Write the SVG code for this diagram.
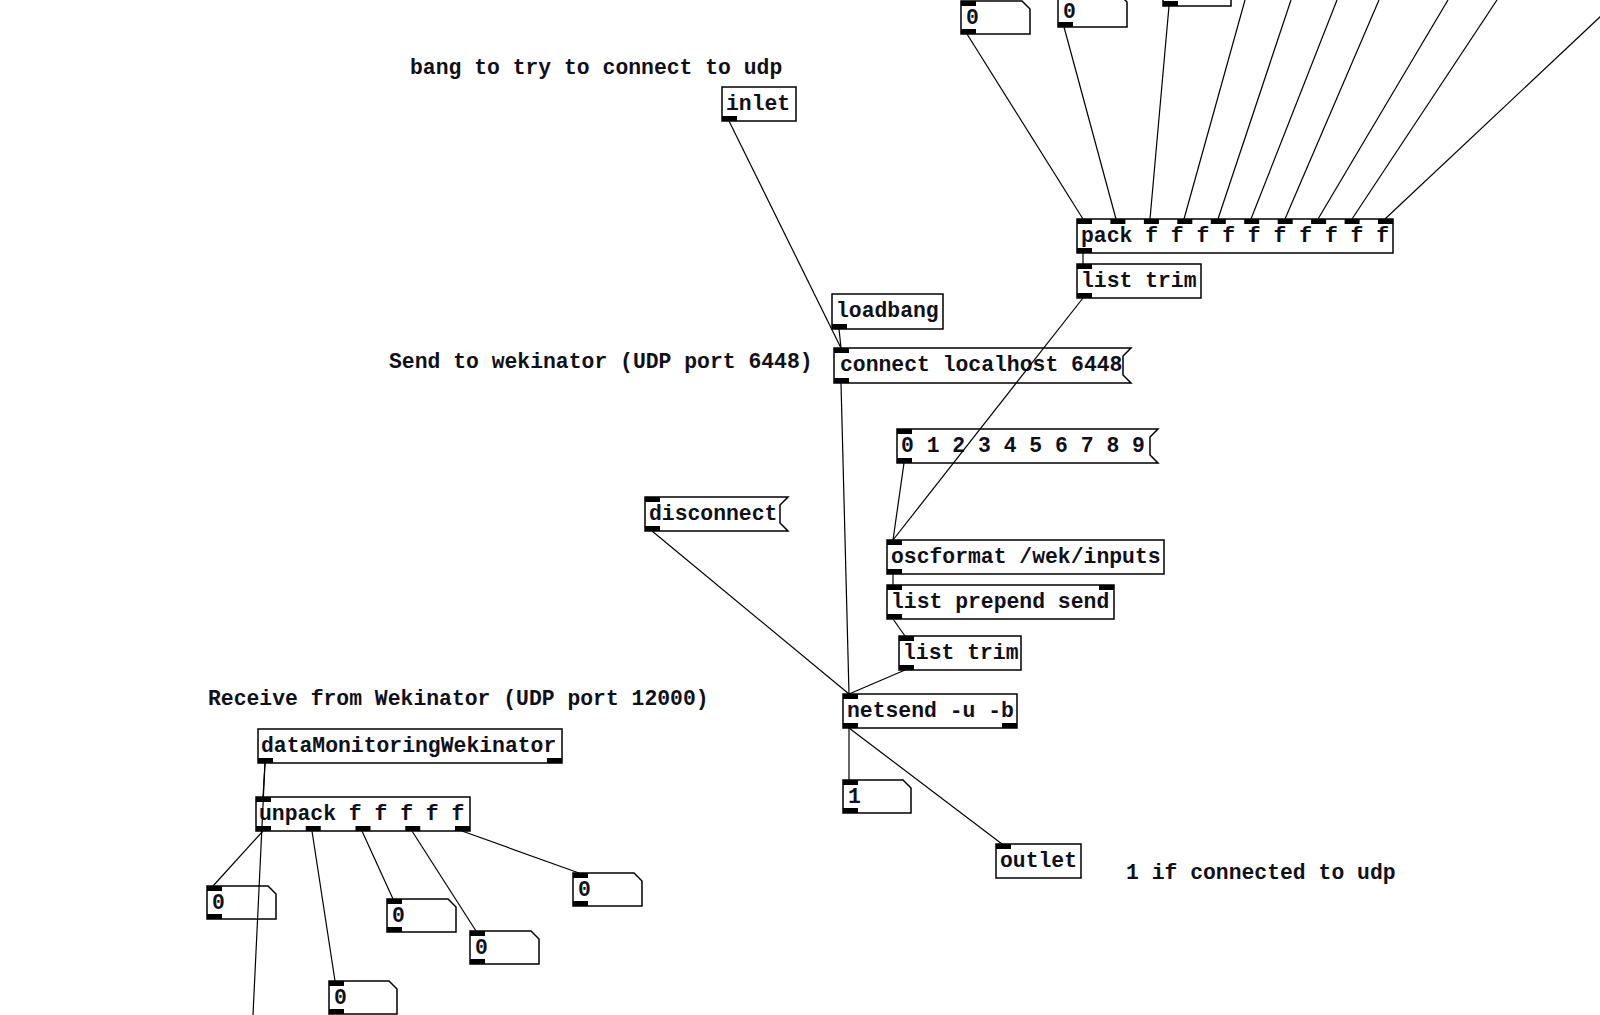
<svg xmlns="http://www.w3.org/2000/svg" width="1600" height="1015" viewBox="0 0 1600 1015">
<style>
.box{fill:#fff;stroke:#000;stroke-width:1.5}
.nub{fill:#000}
.t{font-family:"Liberation Mono","Courier New",monospace;font-size:21.4px;font-weight:bold;fill:#101018}
.c{stroke:#000;stroke-width:1.2;fill:none}
</style>
<rect x="0" y="0" width="1600" height="1015" fill="#fff"/>
<g id="nodes">
<g id="comment-bang"><text class="t" x="410" y="74">bang to try to connect to udp</text></g>
<g id="inlet"><rect class="box" x="722" y="87" width="74" height="34"/><rect class="nub" x="722" y="116" width="15" height="5"/><text class="t" x="726" y="110">inlet</text></g>
<g id="loadbang"><rect class="box" x="832" y="294" width="111" height="35"/><rect class="nub" x="832" y="324" width="15" height="5"/><text class="t" x="836" y="317">loadbang</text></g>
<g id="comment-send"><text class="t" x="389" y="368">Send to wekinator (UDP port 6448)</text></g>
<g id="msg-connect"><path class="box" d="M834,348 H1131 L1123,356 V375 L1131,383 H834 Z"/><rect class="nub" x="834" y="348" width="15" height="5"/><rect class="nub" x="834" y="378" width="15" height="5"/><text class="t" x="840" y="371">connect localhost 6448</text></g>
<g id="msg-list"><path class="box" d="M897,429 H1158 L1150,437 V455 L1158,463 H897 Z"/><rect class="nub" x="897" y="429" width="15" height="5"/><rect class="nub" x="897" y="458" width="15" height="5"/><text class="t" x="901" y="452">0 1 2 3 4 5 6 7 8 9</text></g>
<g id="msg-disconnect"><path class="box" d="M645,497 H788 L780,505 V523 L788,531 H645 Z"/><rect class="nub" x="645" y="497" width="15" height="5"/><rect class="nub" x="645" y="526" width="15" height="5"/><text class="t" x="649" y="520">disconnect</text></g>
<g id="oscformat"><rect class="box" x="887" y="540" width="277" height="34"/><rect class="nub" x="887" y="540" width="15" height="5"/><rect class="nub" x="887" y="569" width="15" height="5"/><text class="t" x="891" y="563">oscformat /wek/inputs</text></g>
<g id="list-prepend"><rect class="box" x="887" y="585" width="227" height="34"/><rect class="nub" x="887" y="585" width="15" height="5"/><rect class="nub" x="1099" y="585" width="15" height="5"/><rect class="nub" x="887" y="614" width="15" height="5"/><text class="t" x="891" y="608">list prepend send</text></g>
<g id="list-trim-2"><rect class="box" x="899" y="636" width="122" height="34"/><rect class="nub" x="899" y="636" width="15" height="5"/><rect class="nub" x="899" y="665" width="15" height="5"/><text class="t" x="903" y="659">list trim</text></g>
<g id="netsend"><rect class="box" x="843" y="694" width="174" height="34"/><rect class="nub" x="843" y="694" width="15" height="5"/><rect class="nub" x="843" y="723" width="15" height="5"/><rect class="nub" x="1002" y="723" width="15" height="5"/><text class="t" x="847" y="717">netsend -u -b</text></g>
<g id="num-status"><path class="box" d="M843,780 H903 L911,788 V813 H843 Z"/><rect class="nub" x="843" y="780" width="15" height="5"/><rect class="nub" x="843" y="808" width="15" height="5"/><text class="t" x="848" y="803">1</text></g>
<g id="outlet"><rect class="box" x="996" y="844" width="85" height="34"/><rect class="nub" x="996" y="844" width="15" height="5"/><text class="t" x="1000" y="867">outlet</text></g>
<g id="comment-status"><text class="t" x="1126" y="879">1 if connected to udp</text></g>
<g id="comment-receive"><text class="t" x="208" y="705">Receive from Wekinator (UDP port 12000)</text></g>
<g id="dataMonitoringWekinator"><rect class="box" x="258" y="729" width="304" height="34"/><rect class="nub" x="258" y="758" width="15" height="5"/><rect class="nub" x="547" y="758" width="15" height="5"/><text class="t" x="261" y="752">dataMonitoringWekinator</text></g>
<g id="unpack"><rect class="box" x="256" y="797" width="214" height="34"/><rect class="nub" x="256" y="797" width="15" height="5"/><rect class="nub" x="256" y="826" width="15" height="5"/><rect class="nub" x="305.75" y="826" width="15" height="5"/><rect class="nub" x="355.5" y="826" width="15" height="5"/><rect class="nub" x="405.25" y="826" width="15" height="5"/><rect class="nub" x="455" y="826" width="15" height="5"/><text class="t" x="259" y="820">unpack f f f f f</text></g>
<g id="num-a"><path class="box" d="M207,886 H268 L276,894 V919 H207 Z"/><rect class="nub" x="207" y="886" width="15" height="5"/><rect class="nub" x="207" y="914" width="15" height="5"/><text class="t" x="212" y="909">0</text></g>
<g id="num-b"><path class="box" d="M329,981 H389 L397,989 V1014 H329 Z"/><rect class="nub" x="329" y="981" width="15" height="5"/><rect class="nub" x="329" y="1009" width="15" height="5"/><text class="t" x="334" y="1004">0</text></g>
<g id="num-c"><path class="box" d="M387,899 H448 L456,907 V932 H387 Z"/><rect class="nub" x="387" y="899" width="15" height="5"/><rect class="nub" x="387" y="927" width="15" height="5"/><text class="t" x="392" y="922">0</text></g>
<g id="num-d"><path class="box" d="M470,931 H531 L539,939 V964 H470 Z"/><rect class="nub" x="470" y="931" width="15" height="5"/><rect class="nub" x="470" y="959" width="15" height="5"/><text class="t" x="475" y="954">0</text></g>
<g id="num-e"><path class="box" d="M573,873 H634 L642,881 V906 H573 Z"/><rect class="nub" x="573" y="873" width="15" height="5"/><rect class="nub" x="573" y="901" width="15" height="5"/><text class="t" x="578" y="896">0</text></g>
<g id="pack"><rect class="box" x="1077" y="219" width="316" height="34"/>
<rect class="nub" x="1077" y="219" width="15" height="5"/><rect class="nub" x="1110.4" y="219" width="15" height="5"/><rect class="nub" x="1143.9" y="219" width="15" height="5"/><rect class="nub" x="1177.3" y="219" width="15" height="5"/><rect class="nub" x="1210.8" y="219" width="15" height="5"/><rect class="nub" x="1244.2" y="219" width="15" height="5"/><rect class="nub" x="1277.7" y="219" width="15" height="5"/><rect class="nub" x="1311.1" y="219" width="15" height="5"/><rect class="nub" x="1344.6" y="219" width="15" height="5"/><rect class="nub" x="1378" y="219" width="15" height="5"/>
<rect class="nub" x="1077" y="248" width="15" height="5"/><text class="t" x="1081" y="242">pack f f f f f f f f f f</text></g>
<g id="list-trim-1"><rect class="box" x="1077" y="264" width="124" height="34"/><rect class="nub" x="1077" y="264" width="15" height="5"/><rect class="nub" x="1077" y="293" width="15" height="5"/><text class="t" x="1081" y="287">list trim</text></g>
<g id="num-top1"><path class="box" d="M961,1 H1022 L1030,9 V34 H961 Z"/><rect class="nub" x="961" y="1" width="15" height="5"/><rect class="nub" x="961" y="29" width="15" height="5"/><text class="t" x="966" y="24">0</text></g>
<g id="num-top2"><path class="box" d="M1058,-6 H1119 L1127,2 V27 H1058 Z"/><rect class="nub" x="1058" y="22" width="15" height="5"/><text class="t" x="1063" y="18">0</text></g>
<g id="num-top3"><path class="box" d="M1163,-27 H1223 L1231,-19 V6 H1163 Z"/><rect class="nub" x="1163" y="1" width="15" height="5"/></g>
</g>
<g id="connectors">
<line class="c" x1="729" y1="121" x2="841" y2="348"/>
<line class="c" x1="839" y1="329" x2="841" y2="348"/>
<line class="c" x1="841" y1="383" x2="849" y2="694"/>
<line class="c" x1="652" y1="531" x2="849" y2="694"/>
<line class="c" x1="904" y1="463" x2="893" y2="540"/>
<line class="c" x1="1083" y1="298" x2="893" y2="540"/>
<line class="c" x1="893" y1="574" x2="893" y2="585"/>
<line class="c" x1="893" y1="619" x2="905" y2="636"/>
<line class="c" x1="905" y1="670" x2="849" y2="694"/>
<line class="c" x1="849" y1="728" x2="849" y2="780"/>
<line class="c" x1="849" y1="728" x2="1002" y2="844"/>
<line class="c" x1="1083" y1="253" x2="1083" y2="264"/>
<line class="c" x1="967" y1="34" x2="1083" y2="219"/>
<line class="c" x1="1064" y1="27" x2="1116" y2="219"/>
<line class="c" x1="1169" y1="6" x2="1150" y2="219"/>
<line class="c" x1="1245" y1="0" x2="1184" y2="219"/>
<line class="c" x1="1291" y1="0" x2="1218" y2="219"/>
<line class="c" x1="1337" y1="0" x2="1251" y2="219"/>
<line class="c" x1="1379" y1="0" x2="1285" y2="219"/>
<line class="c" x1="1448" y1="0" x2="1318" y2="219"/>
<line class="c" x1="1497" y1="0" x2="1352" y2="219"/>
<line class="c" x1="1618" y1="0" x2="1385" y2="219"/>
<line class="c" x1="265" y1="763" x2="263" y2="797"/>
<line class="c" x1="265" y1="763" x2="253" y2="1015"/>
<line class="c" x1="263" y1="831" x2="213" y2="886"/>
<line class="c" x1="312" y1="831" x2="335" y2="981"/>
<line class="c" x1="362" y1="831" x2="393" y2="899"/>
<line class="c" x1="412" y1="831" x2="476" y2="931"/>
<line class="c" x1="462" y1="831" x2="579" y2="873"/>
</g>
</svg>
